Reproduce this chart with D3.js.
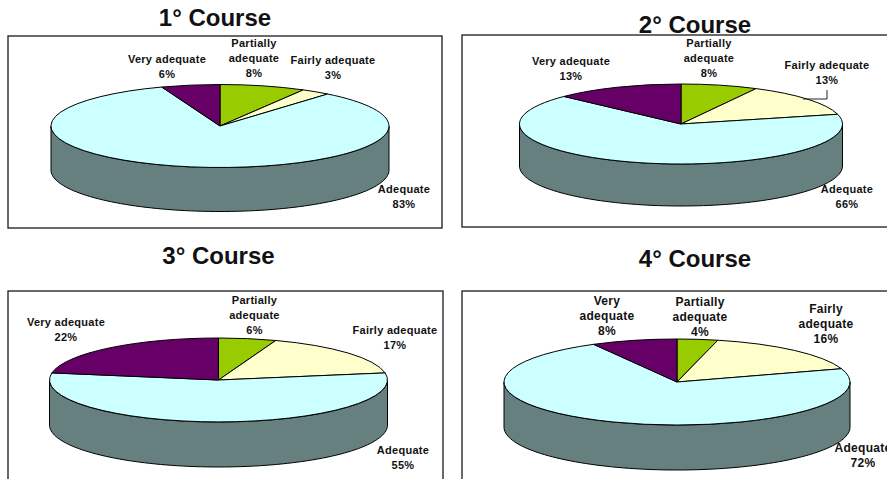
<!DOCTYPE html>
<html lang="en">
<head>
    <meta charset="UTF-8">
    <title>Course adequacy</title>
    <script src="https://d3js.org/d3.v7.min.js"></script>
    <style>
        body { margin: 0; background: #fff; overflow: hidden; }
        svg { display: block; }
        text { font-family: 'Liberation Sans', Arial, sans-serif; font-weight: bold; fill: #111; }
        .label { letter-spacing: 0.28px; }
    </style>
</head>
<body>
<script>
    const width  = 887;
    const height = 479;

    // slices run clockwise from 12 o'clock
    // values are read from the slice edges, the labels show them rounded
    const categories = ['Partially adequate', 'Fairly adequate', 'Adequate', 'Very adequate'];
    const titles  = ['1° Course', '2° Course', '3° Course', '4° Course'];
    const course1 = [8.2, 2.8, 83.4, 5.6];
    const course2 = [7.7, 13.4, 66, 12.9];
    const course3 = [5.5, 16.8, 55.4, 22.3];
    const course4 = [3.8, 16.2, 72, 8];
    const courses = [course1, course2, course3, course4];

    const sliceColors = ['#99cc00', '#ffffcc', '#ccffff', '#660066'];
    const wallColor = '#668080';

    // layout of each panel, same order as the courses
    const panels = [
        {frame: [8, 36, 434, 192],  cx: 220, cy: 126, rx: 169, ry: 41.5, depth: 44,
         title: [215, 26], labelSize: 11},
        {frame: [462, 35, 440, 192], cx: 681, cy: 124, rx: 161.5, ry: 40, depth: 42,
         title: [695, 33], labelSize: 11},
        {frame: [8, 291, 435, 200],  cx: 218.5, cy: 380, rx: 169, ry: 42, depth: 45,
         title: [218.5, 264], labelSize: 11},
        {frame: [462, 291, 440, 200], cx: 677, cy: 382, rx: 173, ry: 43, depth: 45,
         title: [695, 267], labelSize: 12}
    ];

    // label centre and first baseline, per panel and category
    const labelSpots = [
        [[254, 47, 'wrap'], [333, 64], [404, 193], [167, 63]],
        [[709, 47, 'wrap'], [827, 69], [847, 193], [571, 65]],
        [[254.5, 304, 'wrap'], [395, 334], [403, 454], [66, 326]],
        [[700, 306, 'wrap'], [826, 313, 'wrap'], [863, 452], [607, 305, 'wrap']]
    ];
    const lineHeight = 15;

    const svg = d3.select('body')
        .append('svg')
        .attr('width', width)
        .attr('height', height);

    const pie = d3.pie().sort(null);
    const arc = d3.arc().innerRadius(0).outerRadius(1);

    panels.forEach((p, i) => {
        const g = svg.append('g');

        g.append('rect')
            .attr('x', p.frame[0])
            .attr('y', p.frame[1])
            .attr('width', p.frame[2])
            .attr('height', p.frame[3])
            .attr('fill', '#fff')
            .attr('stroke', '#1a1a1a')
            .attr('stroke-width', 1.3);

        // the wall under the front half of the disc
        const frontAngles = d3.range(90, 270.5, 2).map(d => d * Math.PI / 180);
        const wall = d3.area()
            .x(a => p.cx + p.rx * Math.sin(a))
            .y0(a => p.cy - p.ry * Math.cos(a))
            .y1(a => p.cy - p.ry * Math.cos(a) + p.depth);

        g.append('path')
            .attr('d', wall(frontAngles))
            .attr('fill', wallColor)
            .attr('stroke', '#000')
            .attr('stroke-width', 1);

        // unit circle squashed into the ellipse of the top face
        g.append('g')
            .attr('transform', 'translate(' + [p.cx, p.cy] + ') scale(' + [p.rx, p.ry] + ')')
            .selectAll('path')
            .data(pie(courses[i]))
            .enter()
            .append('path')
            .attr('d', arc)
            .attr('fill', (d, j) => sliceColors[j])
            .attr('stroke', '#000')
            .attr('stroke-width', 1)
            .attr('vector-effect', 'non-scaling-stroke');

        categories.forEach((name, j) => {
            const spot = labelSpots[i][j];
            const lines = spot[2] === 'wrap' ? name.split(' ') : [name];
            lines.push(Math.round(courses[i][j]) + '%');

            g.append('g').selectAll('text')
                .data(lines)
                .enter()
                .append('text')
                .attr('class', 'label')
                .attr('x', spot[0])
                .attr('y', (d, k) => spot[1] + k * lineHeight)
                .attr('text-anchor', 'middle')
                .attr('font-size', p.labelSize)
                .text(d => d);
        });

        g.append('text')
            .attr('x', p.title[0])
            .attr('y', p.title[1])
            .attr('text-anchor', 'middle')
            .attr('font-size', 24)
            .text(titles[i]);
    });

    // leader line of the 13% label in the second panel
    const leader = [[803, 99], [827, 99], [827, 90]];
    svg.append('path')
        .attr('d', d3.line()(leader))
        .attr('fill', 'none')
        .attr('stroke', '#222')
        .attr('stroke-width', 1);
</script>
</body>
</html>
